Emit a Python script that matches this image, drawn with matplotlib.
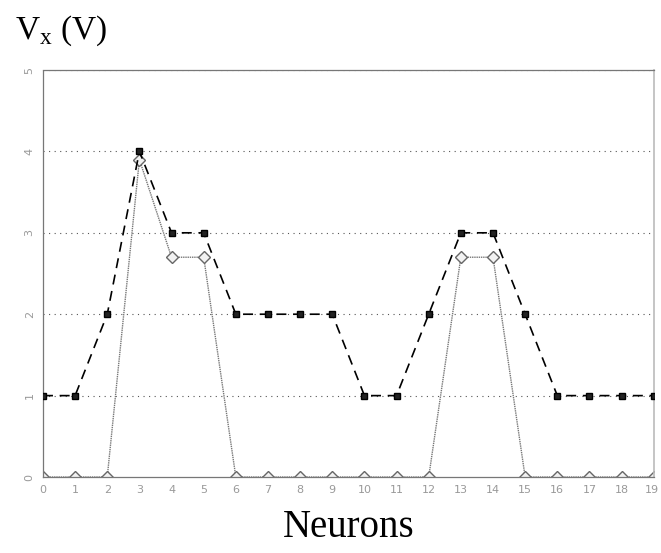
import matplotlib
matplotlib.use("Agg")
import matplotlib.pyplot as plt
import matplotlib.transforms as mtransforms

neurons = list(range(20))
dashed_vals = [1, 1, 2, 4, 3, 3, 2, 2, 2, 2, 1, 1, 2, 3, 3, 2, 1, 1, 1, 1]
solid_vals = [0, 0, 0, 3.9, 2.7, 2.7, 0, 0, 0, 0, 0, 0, 0, 2.7, 2.7, 0, 0, 0, 0, 0]
yticks = [0, 1, 2, 3, 4, 5]

fig = plt.figure(figsize=(6.61, 5.53), dpi=100)
ax = fig.add_axes([0.065, 0.1374, 0.924, 0.736])

for y in yticks[1:]:
    ax.axhline(y, color="#555555", lw=0.8, ls=(0, (1, 4)), zorder=0)

ax.plot(neurons, solid_vals, color="#777777", lw=1.0, ls=(0, (1, 0.6)),
        marker="D", ms=6, mfc="#f2f2f2", mec="#666666", mew=1.0, zorder=2)
ax.plot(neurons, dashed_vals, color="black", lw=1.2, ls=(0, (6, 4)),
        marker="s", ms=4.5, mfc="#222222", mec="black", zorder=3)

ax.set_xlim(0, 19)
ax.set_ylim(0, 5)
ax.set_xticks(neurons)
ax.set_yticks(yticks)
ax.tick_params(length=0, labelsize=8, labelcolor="#999999", pad=6)
for lab in ax.get_yticklabels():
    lab.set_rotation(90)
    lab.set_va("center")
last = ax.get_xticklabels()[-1]
last.set_transform(last.get_transform() + mtransforms.ScaledTranslation(-2 / 100, 0, fig.dpi_scale_trans))

for side in ["left", "top"]:
    ax.spines[side].set_linestyle((0, (1, 1)))
    ax.spines[side].set_color("#777777")
    ax.spines[side].set_linewidth(0.9)
ax.spines["right"].set_color("#bbbbbb")
ax.spines["right"].set_linewidth(1.2)
ax.spines["bottom"].set_color("#777777")
ax.spines["bottom"].set_linestyle((0, (1, 1)))
ax.spines["bottom"].set_linewidth(0.9)

fig.text(0.023, 0.945, r"V$_\mathregular{x}$ (V)", fontsize=24, family="Liberation Serif",
         va="center", ha="left")
fig.text(0.528, 0.012, "Neurons", fontsize=28, family="Liberation Serif",
         va="bottom", ha="center")

fig.savefig("out.png", dpi=100)
